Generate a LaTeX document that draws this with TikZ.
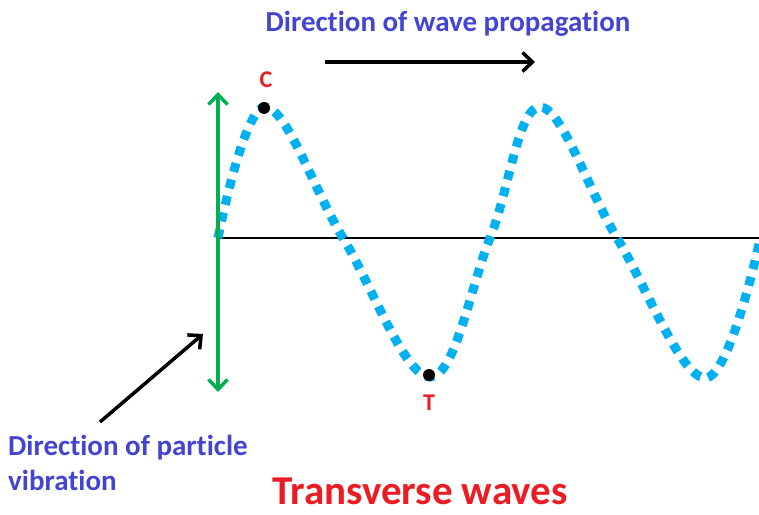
\documentclass[tikz,border=0pt]{standalone}
\usepackage{fontspec}
\setmainfont{Carlito}[Ligatures=NoCommon]
\usetikzlibrary{arrows.meta}
\definecolor{wavecol}{RGB}{0,176,240}
\definecolor{labelblue}{RGB}{68,68,210}
\definecolor{arrgreen}{RGB}{0,176,80}
\definecolor{labred}{RGB}{235,28,36}
\tikzset{
  wave/.style={wavecol, line width=9pt, dash pattern=on 9pt off 8pt},
  axisline/.style={black, line width=1.6pt},
  barbtip/.tip={Straight Barb[length=10pt,width=19pt,line width=3.5pt]},
  barb/.style={-barbtip, line width=3.5pt},
  bluelab/.style={text=labelblue, font=\fontsize{29}{35}\selectfont\bfseries, inner sep=0pt},
  redlab/.style={text=labred, font=\fontsize{24}{28}\selectfont\bfseries, inner sep=0pt},
  dotmark/.style={circle, fill=black, minimum size=12pt, inner sep=0pt},
}
\begin{document}
\begin{tikzpicture}[x=1pt,y=1pt]
\useasboundingbox (0,0) rectangle (759,514);
% axis
\coordinate (a0) at (217,276);
\coordinate (a1) at (759,276);
\draw[axisline] (a0) -- (a1);
% wave
\draw[wave] plot[smooth, tension=0.62] coordinates {(218,276) (265,407) (343,276) (430,137) (490,276) (540,407) (617,276) (705,136) (759,270)};
% green double arrow
\coordinate (g0) at (218,122);
\coordinate (g1) at (218,422);
\draw[barb, arrgreen, barbtip-barbtip] (g0) -- (g1);
% points
\node[dotmark] (C) at (264,406) {};
\node[dotmark] (T) at (429,139) {};
\node[redlab] (Cl) at (266,434) {C};
\node[redlab] (Tl) at (429,111) {T};
% propagation arrow
\coordinate (p0) at (325,452);
\coordinate (p1) at (535,452);
\draw[barb, black] (p0) -- (p1);
\node[bluelab, anchor=base] (prop) at (448,482) {Direction of wave propagation};
% particle arrow
\coordinate (v0) at (100,92);
\coordinate (v1) at (203,180);
\draw[barb, black] (v0) -- (v1);
\node[bluelab, anchor=base west] (vib1) at (8,59) {Direction of particle};
\node[bluelab, anchor=base west] (vib2) at (8,24) {vibration};
\node[text=labred, font=\fontsize{41}{44}\selectfont\bfseries, inner sep=0pt, anchor=base] (title) at (420,10) {Transverse waves};
\end{tikzpicture}
\end{document}
